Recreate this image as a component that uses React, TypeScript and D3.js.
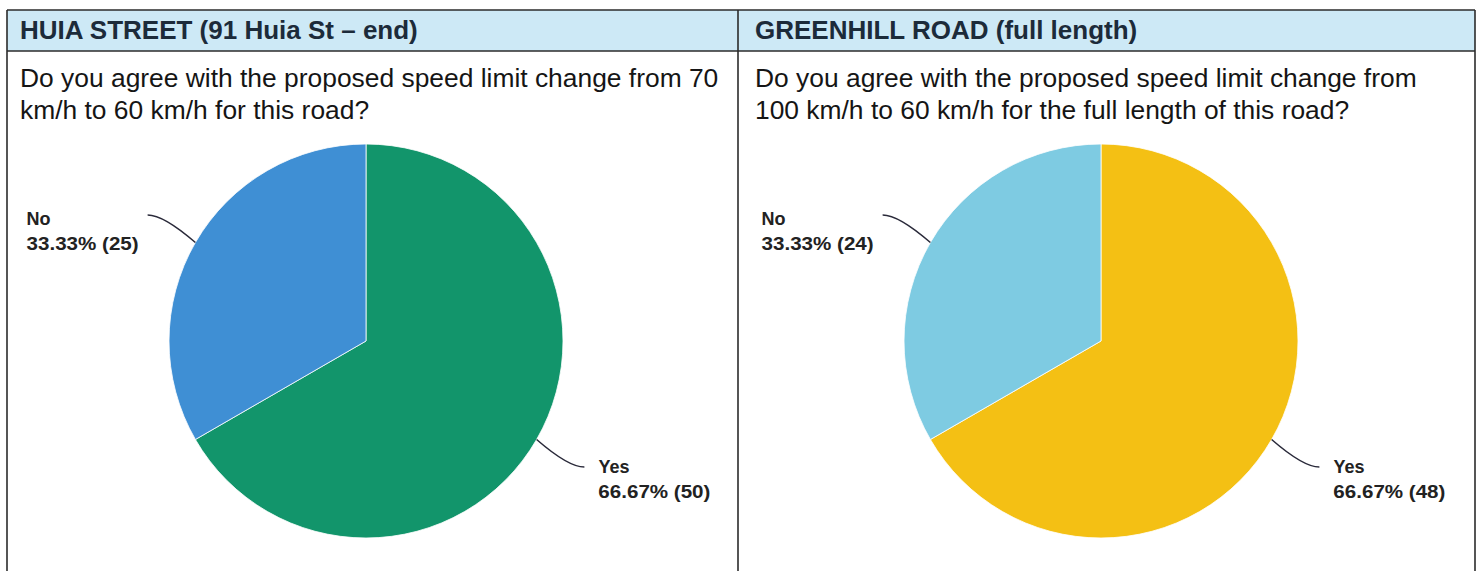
import React from "react";
import * as d3 from "d3";

const panelTitles = ["HUIA STREET (91 Huia St – end)", "GREENHILL ROAD (full length)"];
const questionLines = [
  ["Do you agree with the proposed speed limit change from 70", "km/h to 60 km/h for this road?"],
  ["Do you agree with the proposed speed limit change from", "100 km/h to 60 km/h for the full length of this road?"],
];
const answerCategories = ["Yes", "No"];
const huiaCounts = [50, 25];
const greenhillCounts = [48, 24];
const huiaColors = ["#12956b", "#3f8fd4"];
const greenhillColors = ["#f4c014", "#7ecbe2"];

const panelCounts = [huiaCounts, greenhillCounts];
const panelColors = [huiaColors, greenhillColors];

const W = 1481;
const H = 571;
const tableLeft = 7;
const tableRight = 1475;
const divider = 738;
const tableTop = 10;
const headerBottom = 51;
const lineColor = "#2b2b2b";
const R = 197;
const centers = [
  [366, 341],
  [1101, 341],
];
const fmt = d3.format(".2f");

function Pie({ idx }: { idx: number }) {
  const counts = panelCounts[idx];
  const colors = panelColors[idx];
  const total = d3.sum(counts);
  const data = answerCategories.map((c, i) => ({ cat: c, count: counts[i], color: colors[i] }));
  const pie = d3
    .pie<any>()
    .sort(null)
    .value((d: any) => d.count);
  const arcs = pie(data);
  const arc = d3.arc<any>().innerRadius(0).outerRadius(R);
  const [cx, cy] = centers[idx];
  return (
    <g>
      <g transform={`translate(${cx},${cy})`}>
        {arcs.map((a, i) => (
          <path key={i} d={arc(a) as string} fill={a.data.color} stroke="#ffffff" strokeWidth={0.8} />
        ))}
      </g>
      {arcs.map((a, i) => {
        const mid = (a.startAngle + a.endAngle) / 2;
        const pt = (r: number) => [cx + r * Math.sin(mid), cy - r * Math.cos(mid)];
        const [ex, ey] = pt(R);
        const [tx, ty] = pt(R * 1.28);
        const side = Math.sin(mid) >= 0 ? 1 : -1;
        const qx = tx - side * 16;
        const qy = ty;
        const labelX = side > 0 ? tx + 14 : tx - 121;
        const base = side > 0 ? ty + 6 : ty + 10;
        const pct = `${fmt((a.data.count / total) * 100)}% (${a.data.count})`;
        return (
          <g key={"l" + i}>
            <path d={`M${ex},${ey} Q${qx},${qy} ${tx},${ty}`} fill="none" stroke="#2a2a3a" strokeWidth={1.5} />
            <text
              x={labelX}
              y={base}
              fontFamily="'Liberation Sans', Arial, sans-serif"
              fontWeight="bold"
              fontSize={18}
              fill="#222"
            >
              {a.data.cat}
            </text>
            <text
              x={labelX}
              y={base + 25}
              fontFamily="'Liberation Sans', Arial, sans-serif"
              fontWeight="bold"
              fontSize={18}
              fill="#222"
              textLength={112}
              lengthAdjust="spacingAndGlyphs"
            >
              {pct}
            </text>
          </g>
        );
      })}
    </g>
  );
}

export default function App() {
  const colX = [tableLeft, divider];
  return (
    <svg
      width={W}
      height={H}
      style={{ position: "absolute", left: 0, top: 0, display: "block", background: "#fff" }}
    >
      <rect x={0} y={0} width={W} height={H} fill="#ffffff" />
      <rect x={tableLeft} y={tableTop} width={tableRight - tableLeft} height={headerBottom - tableTop} fill="#cde9f6" />
      <line x1={tableLeft} x2={tableRight} y1={tableTop} y2={tableTop} stroke={lineColor} strokeWidth={1.6} />
      <line x1={tableLeft} x2={tableRight} y1={headerBottom} y2={headerBottom} stroke={lineColor} strokeWidth={1.6} />
      <line x1={tableLeft} x2={tableLeft} y1={tableTop} y2={H} stroke={lineColor} strokeWidth={1.6} />
      <line x1={divider} x2={divider} y1={tableTop} y2={H} stroke={lineColor} strokeWidth={1.6} />
      <line x1={tableRight} x2={tableRight} y1={tableTop} y2={H} stroke={lineColor} strokeWidth={1.6} />
      {panelTitles.map((t, i) => (
        <text
          key={"t" + i}
          x={colX[i] + 13 + (i === 1 ? 4 : 0)}
          y={39}
          fontFamily="'Liberation Sans', Arial, sans-serif"
          fontWeight="bold"
          fontSize={26}
          fill="#1c2b3a"
        >
          {t}
        </text>
      ))}
      {questionLines.map((lines, i) =>
        lines.map((l, j) => (
          <text
            key={"q" + i + j}
            x={colX[i] + 13 + (i === 1 ? 4 : 0)}
            y={87 + j * 32}
            fontFamily="'Liberation Sans', Arial, sans-serif"
            fontSize={26.4}
            fill="#151515"
          >
            {l}
          </text>
        ))
      )}
      <Pie idx={0} />
      <Pie idx={1} />
    </svg>
  );
}
